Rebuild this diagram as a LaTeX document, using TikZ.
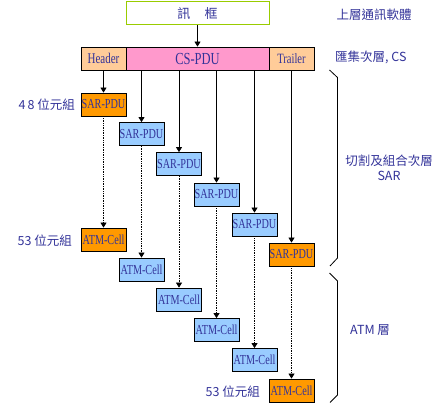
\documentclass[tikz,border=0pt]{standalone}
\usepackage{fontspec}
\usepackage{graphicx}
\setmainfont{Liberation Serif}
\newfontfamily\cjk{Noto Sans CJK TC}
\usetikzlibrary{arrows.meta}
\newcommand\talltxt[1]{\scalebox{1}[1.35]{#1}}
\definecolor{txtblue}{HTML}{333399}
\definecolor{orangeF}{HTML}{FF9900}
\definecolor{blueF}{HTML}{99CCFF}
\definecolor{pinkF}{HTML}{FF99CC}
\definecolor{peachF}{HTML}{FFCC99}
\definecolor{frameG}{HTML}{99CC00}
\tikzset{
  cell/.style={draw=black, line width=0.8pt, minimum width=45pt, minimum height=23pt, inner sep=0pt, text=txtblue, font=\fontsize{10.2}{10}\selectfont},
  sarO/.style={cell, fill=orangeF},
  sarB/.style={cell, fill=blueF},
  lbl/.style={text=txtblue, font=\cjk\fontsize{12.5}{15}\selectfont, inner sep=0pt},
  solidarr/.style={line width=0.7pt, -{Triangle[width=6pt,length=5pt]}},
  dotarr/.style={line width=0.7pt, densely dotted, -{Triangle[width=6pt,length=5pt]}},
  bracket/.style={line width=0.8pt}
}
\begin{document}
\begin{tikzpicture}[x=1pt,y=-1pt]
\useasboundingbox (0,0) rectangle (447,406);
% frame
\node[draw=frameG, line width=1pt, fill=white, minimum width=143pt, minimum height=23pt, inner sep=0pt, text=txtblue, font=\cjk\fontsize{13}{13}\selectfont] (frame) at (197.5,13.5) {訊\hspace{1.1em}框};
% top row
\node[cell, fill=peachF, font=\fontsize{11}{11}\selectfont] (hdr) at (103.5,58.5) {\talltxt{Header}};
\node[cell, fill=pinkF, minimum width=143pt, font=\fontsize{12.5}{12.5}\selectfont] (cs) at (197.5,58.5) {\talltxt{CS-PDU}};
\node[cell, fill=peachF, font=\fontsize{10.5}{10.5}\selectfont] (trl) at (291.5,58.5) {\talltxt{Trailer}};
\draw[solidarr] (frame.south) -- (cs.north);
% SAR-PDUs
\node[sarO] (s1) at (103.5,104.5) {\talltxt{SAR-PDU}};
\node[sarB] (s2) at (141.5,134) {\talltxt{SAR-PDU}};
\node[sarB] (s3) at (179,164) {\talltxt{SAR-PDU}};
\node[sarB] (s4) at (216.5,194.5) {\talltxt{SAR-PDU}};
\node[sarB] (s5) at (254.5,224.5) {\talltxt{SAR-PDU}};
\node[sarO] (s6) at (291.5,254.5) {\talltxt{SAR-PDU}};
% ATM cells
\node[sarO] (a1) at (103.5,239.5) {\talltxt{ATM-Cell}};
\node[sarB] (a2) at (141.5,269.5) {\talltxt{ATM-Cell}};
\node[sarB] (a3) at (179,299.5) {\talltxt{ATM-Cell}};
\node[sarB] (a4) at (216.5,330) {\talltxt{ATM-Cell}};
\node[sarB] (a5) at (254.5,360) {\talltxt{ATM-Cell}};
\node[sarO] (a6) at (291.5,390.5) {\talltxt{ATM-Cell}};
% solid arrows
\draw[solidarr] (hdr.south) -- (s1.north);
\draw[solidarr] (cs.south -| s2.north) -- (s2.north);
\draw[solidarr] (cs.south -| s3.north) -- (s3.north);
\draw[solidarr] (cs.south -| s4.north) -- (s4.north);
\draw[solidarr] (cs.south -| s5.north) -- (s5.north);
\draw[solidarr] (trl.south) -- (s6.north);
% dotted arrows
\draw[dotarr] (s1.south) -- (a1.north);
\draw[dotarr] (s2.south) -- (a2.north);
\draw[dotarr] (s3.south) -- (a3.north);
\draw[dotarr] (s4.south) -- (a4.north);
\draw[dotarr] (s5.south) -- (a5.north);
\draw[dotarr] (s6.south) -- (a6.north);
% brackets
\draw[bracket] (329.5,70) -- (337.5,77.5) -- (337.5,258) -- (330,266);
\draw[bracket] (329.5,273) -- (337.5,281) -- (337.5,395) -- (330,402.5);
% labels
\node[lbl] (l1) at (374,15) {上層通訊軟體};
\node[lbl, anchor=west] (l2) at (335,57) {匯集次層, CS};
\node[lbl, align=center] (l3) at (389,168) {切割及組合次層\\SAR};
\node[lbl, anchor=west] (l4) at (350,330) {ATM 層};
\node[lbl, anchor=east] (l5) at (75,105) {4\kern2pt 8 位元組};
\node[lbl, anchor=east] (l6) at (72,240.5) {53 位元組};
\node[lbl, anchor=east] (l7) at (260,392) {53 位元組};
\end{tikzpicture}
\end{document}
